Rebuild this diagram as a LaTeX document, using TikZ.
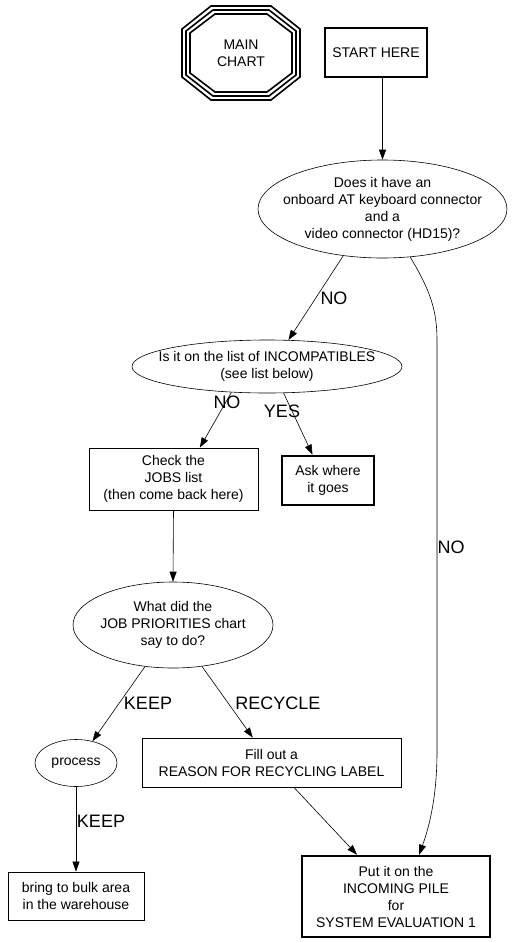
\documentclass[tikz,border=0pt]{standalone}
\usepackage{fontspec}
\setmainfont{Liberation Sans}
\usetikzlibrary{shapes.geometric,arrows.meta,calc}
\begin{document}
\begin{tikzpicture}[x=1pt,y=-1pt,
  every node/.style={font=\fontsize{14}{17}\selectfont, align=center, inner sep=0pt},
  boxn/.style={draw, rectangle, line width=0.8pt},
  thickbox/.style={draw, rectangle, line width=2.6pt},
  elln/.style={draw, ellipse, line width=0.6pt},
  lbl/.style={font=\fontsize{18}{20}\selectfont},
  edge/.style={line width=0.6pt, -{Triangle[length=10pt,width=7pt]}},
  octl/.style={line width=1.6pt, line join=miter}
]
\useasboundingbox (0,0) rectangle (522,943);

% main chart (triple octagon)
\node (main) at (241,53) {MAIN\\CHART};
\foreach \a/\b/\c/\d in {59/30/47/24, 55/28/43/22, 51/26/39/20} {
  \draw[octl] ($(main)+(-\b,-\c)$) -- ($(main)+(\b,-\c)$) -- ($(main)+(\a,-\d)$) -- ($(main)+(\a,\d)$)
   -- ($(main)+(\b,\c)$) -- ($(main)+(-\b,\c)$) -- ($(main)+(-\a,\d)$) -- ($(main)+(-\a,-\d)$) -- cycle;
}

\node[thickbox, minimum width=102pt, minimum height=49pt] (start) at (376,52.5) {START HERE};

\node[elln, minimum width=249pt, minimum height=98pt] (e1) at (382.5,209) {};
\node (e1t) at (e1.center) {Does it have an\\onboard AT keyboard connector\\and a\\video connector (HD15)?};

\node[elln, minimum width=270pt, minimum height=53pt] (e2) at (267,366.5) {};
\node (e2t) at (e2.center) {Is it on the list of INCOMPATIBLES\\(see list below)};

\node[boxn, minimum width=169pt, minimum height=62pt] (check) at (173.5,479)
  {Check the\\JOBS list\\(then come back here)};
\node[thickbox, minimum width=92pt, minimum height=49pt] (ask) at (328,480.5)
  {Ask where\\it goes};

\node[elln, minimum width=200pt, minimum height=86pt] (e3) at (173,625) {};
\node (e3t) at (e3.center) {What did the\\JOB PRIORITIES chart\\say to do?};

\node[elln, minimum width=82pt, minimum height=47pt] (process) at (76,763) {};
\node (processt) at (process.center) {process};

\node[boxn, minimum width=259pt, minimum height=49pt] (fill) at (271.5,762.5)
  {Fill out a\\REASON FOR RECYCLING LABEL};
\node[boxn, minimum width=136pt, minimum height=48pt] (bring) at (76,896)
  {bring to bulk area\\in the warehouse};
\node[thickbox, minimum width=188pt, minimum height=81pt] (put) at (396,896.5)
  {Put it on the\\INCOMING PILE\\for\\SYSTEM EVALUATION 1};

% edges
\draw[edge] (e1.north |- start.south) -- (e1.north);
\draw[edge] (e1.230.8) -- (e2.51.8);
\draw[edge] (e2.216.6) -- (check.50.6);
\draw[edge] (e2.302.2) -- (ask.121.5);
\draw[edge] (check.south) -- (e3.north);
\draw[edge] (e3.236.3) -- (process.53.5);
\draw[edge] (e3.305.5) -- (fill.127.8);
\draw[edge] (process.south) -- (bring.north);
\draw[edge] (fill.312.5) -- (put.133.2);
\draw[edge] (e1.300.6) .. controls (430,290) and (437,310) .. (437,340) -- (437,752)
   .. controls (437,800) and (428,830) .. (put.61.5);

% edge labels
\node[lbl] (l1) at (334,298) {NO};
\node[lbl] (l2) at (227,402) {NO};
\node[lbl] (l3) at (282,411) {YES};
\node[lbl] (l4) at (451,547) {NO};
\node[lbl] (l5) at (148,703) {KEEP};
\node[lbl] (l6) at (278,703) {RECYCLE};
\node[lbl] (l7) at (101,821) {KEEP};
\end{tikzpicture}
\end{document}
